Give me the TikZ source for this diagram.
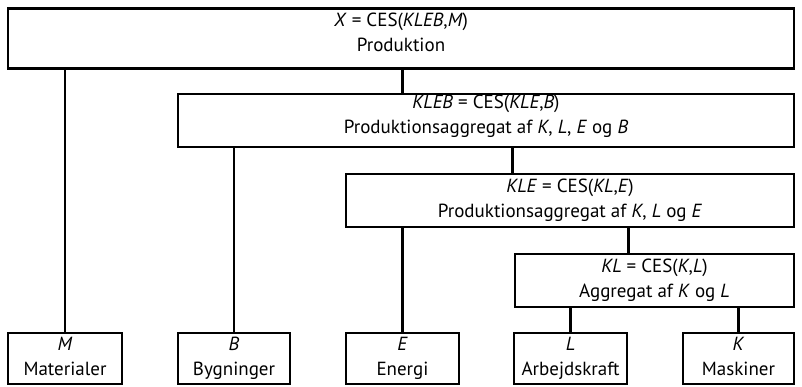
\documentclass[tikz,border=0pt]{standalone}
\usepackage{fontspec}
\setmainfont{PT Sans}

\begin{document}
\begin{tikzpicture}[x=1pt,y=-1pt,line width=2.6pt,
  box/.style={rectangle,draw,inner sep=0pt,align=center,
    font=\fontsize{19}{25}\selectfont,
    execute at begin node={\rule{0pt}{15pt}},
    execute at end node={\rule[-4pt]{0pt}{4pt}}},
  high box/.style={box,execute at end node={\rule[-13pt]{0pt}{13pt}}},
  agg node/.style={box,minimum height=53pt},
  input node/.style={box,minimum height=51pt}]
  \useasboundingbox (0,0) rectangle (802,386);

  % nesting of the CES aggregates
  \node[high box,minimum width=786pt,minimum height=60pt] (X) at (401,38.5)
    {\textit{X} = CES(\textit{KLEB},\textit{M})\\Produktion};
  \node[agg node,high box,minimum width=616pt] (KLEB) at (486,120.5)
    {\textit{KLEB} = CES(\textit{KLE},\textit{B})\\Produktionsaggregat af \textit{K}, \textit{L}, \textit{E} og \textit{B}};
  \node[agg node,minimum width=448pt] (KLE) at (570,200.5)
    {\textit{KLE} = CES(\textit{KL},\textit{E})\\Produktionsaggregat af \textit{K}, \textit{L} og \textit{E}};
  \node[agg node,minimum width=279pt] (KL) at (654.5,280.5)
    {\textit{KL} = CES(\textit{K},\textit{L})\\Aggregat af \textit{K} og \textit{L}};

  % production factors
  \node[input node,minimum width=114pt] (M) at (65,358.5) {\textit{M}\\Materialer};
  \node[input node,minimum width=112pt] (B) at (234,358.5) {\textit{B}\\Bygninger};
  \node[input node,minimum width=113pt] (E) at (402.5,358.5) {\textit{E}\\Energi};
  \node[input node,minimum width=113pt] (L) at (570.5,358.5) {\textit{L}\\Arbejdskraft};
  \node[input node,minimum width=111pt] (K) at (738.5,358.5) {\textit{K}\\Maskiner};

  \draw (X.south -| M) -- (M);
  \draw (X.south -| E) -- (KLEB.north -| E);
  \draw (KLEB.south -| B) -- (B);
  \draw (KLEB.south -| L.west) -- (KLE.north -| L.west);
  \draw (KLE.south -| E) -- (E);
  \draw (KLE.south -| L.east) -- (KL.north -| L.east);
  \draw (KL.south -| L) -- (L);
  \draw (KL.south -| K) -- (K);
\end{tikzpicture}
\end{document}
